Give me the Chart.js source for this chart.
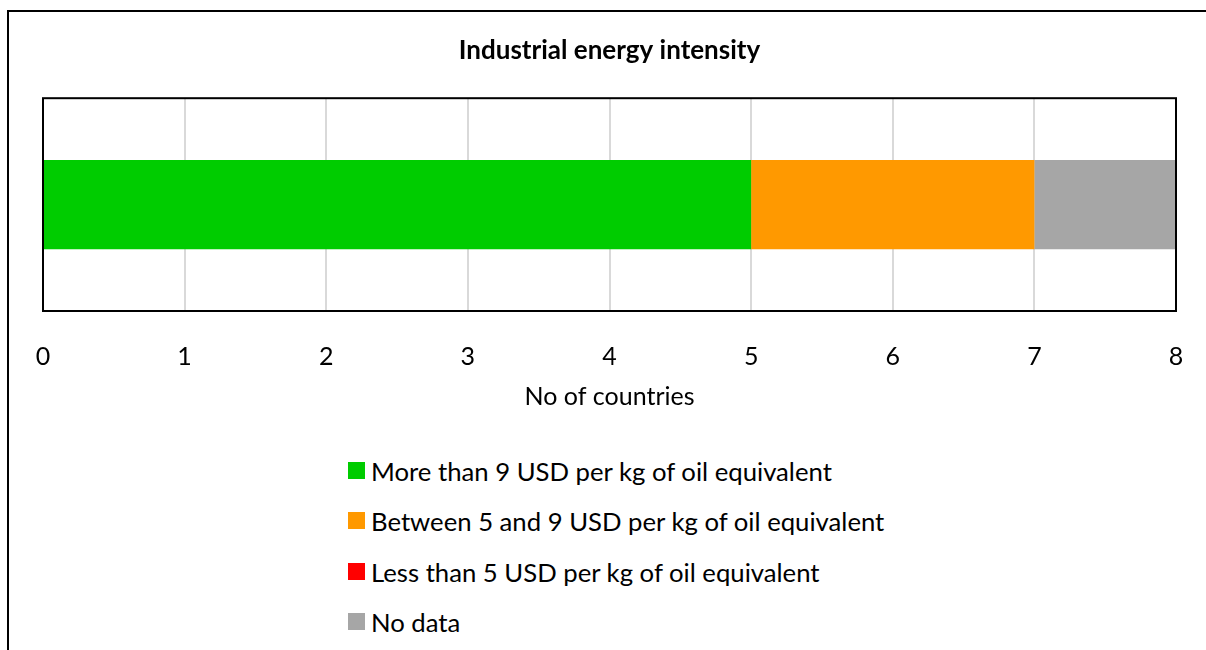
<!DOCTYPE html>
<html>
<head>
<meta charset="utf-8">
<script src="https://cdn.jsdelivr.net/npm/chart.js@4"></script>
<style>
  body { margin: 0; background: #fff; overflow: hidden; }
  #wrap { position: relative; width: 1206px; height: 650px; overflow: hidden; font-family: Lato, "Open Sans", sans-serif; }
  #frame { position: absolute; left: 7px; top: 10px; width: 1300px; height: 700px; border-top: 2px solid #000; border-left: 2px solid #000; }
  #chartBox { position: absolute; left: 0; top: 0; width: 1206px; height: 420px; }
  #legend { position: absolute; left: 348px; top: 456px; }
  .item { height: 50.3px; display: flex; align-items: flex-start; font-size: 25.7px; line-height: 30px; color: #000; }
  .box { width: 17px; height: 17px; margin-top: 6px; margin-right: 6px; flex: none; }
</style>
</head>
<body>
<div id="wrap">
  <div id="frame"></div>
  <div id="chartBox"><canvas id="chart"></canvas></div>
  <div id="legend"></div>
</div>
<script>
const categories = [''];
const seriesNames = [
  'More than 9 USD per kg of oil equivalent',
  'Between 5 and 9 USD per kg of oil equivalent',
  'Less than 5 USD per kg of oil equivalent',
  'No data'
];
const seriesValues = [[5], [2], [0], [1]];
const seriesColors = ['#00CC00', '#FF9900', '#FF0000', '#A6A6A6'];
const xTicks = [0, 1, 2, 3, 4, 5, 6, 7, 8];

Chart.defaults.color = '#000';
Chart.defaults.font.family = 'Lato, "Open Sans", sans-serif';

// black box round the plot area
const plotBorder = {
  id: 'plotBorder',
  afterDatasetsDraw(chart) {
    const a = chart.chartArea;
    const ctx = chart.ctx;
    ctx.save();
    ctx.strokeStyle = '#000';
    ctx.lineWidth = 2;
    ctx.strokeRect(a.left, a.top, a.right - a.left, a.bottom - a.top);
    ctx.restore();
  }
};

const datasets = seriesNames.map(function (name, i) {
  return {
    label: name,
    data: seriesValues[i],
    backgroundColor: seriesColors[i],
    borderWidth: 0,
    categoryPercentage: 1,
    barPercentage: 0.42
  };
});

new Chart(document.getElementById('chart'), {
  type: 'bar',
  data: { labels: categories, datasets: datasets },
  plugins: [plotBorder],
  options: {
    indexAxis: 'y',
    responsive: true,
    maintainAspectRatio: false,
    animation: false,
    layout: { padding: { left: 43, right: 30, top: 0, bottom: 4 } },
    plugins: {
      legend: { display: false },
      tooltip: { enabled: false },
      title: {
        display: true,
        text: 'Industrial energy intensity',
        font: { size: 26, weight: 'bold' },
        padding: { top: 35, bottom: 32 }
      }
    },
    scales: {
      x: {
        stacked: true,
        min: 0,
        max: 8,
        afterBuildTicks: function (axis) {
          axis.ticks = xTicks.map(function (v) { return { value: v }; });
        },
        grid: { color: '#D9D9D9', lineWidth: 2, drawTicks: true, tickLength: 27, tickColor: 'rgba(0,0,0,0)' },
        border: { display: false },
        ticks: { font: { size: 25 }, padding: 4 },
        title: {
          display: true,
          text: 'No of countries',
          font: { size: 25 },
          padding: { top: 6, bottom: 4 }
        }
      },
      y: {
        stacked: true,
        display: false
      }
    }
  }
});

// legend list, one entry per line
const legend = document.getElementById('legend');
seriesNames.forEach(function (name, i) {
  const item = document.createElement('div');
  item.className = 'item';
  const box = document.createElement('span');
  box.className = 'box';
  box.style.background = seriesColors[i];
  const txt = document.createElement('span');
  txt.textContent = name;
  item.appendChild(box);
  item.appendChild(txt);
  legend.appendChild(item);
});
</script>
</body>
</html>
